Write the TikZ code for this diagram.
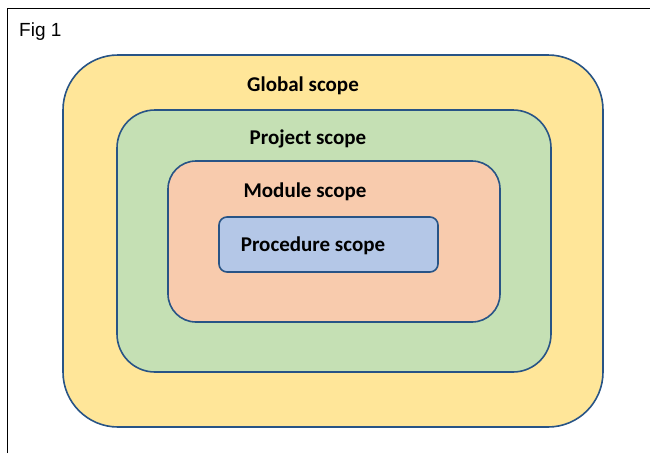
\documentclass[tikz,border=0pt]{standalone}
\usepackage{fontspec}
\setmainfont{Carlito}
\newfontfamily\arialfont{Liberation Sans}
\definecolor{scopeborder}{RGB}{40,84,134}
\definecolor{globalfill}{RGB}{255,230,153}
\definecolor{projectfill}{RGB}{197,224,180}
\definecolor{modulefill}{RGB}{248,203,173}
\definecolor{procfill}{RGB}{180,199,231}
\begin{document}
\begin{tikzpicture}[x=1pt,y=-1pt,
  scopebox/.style={draw=scopeborder, line width=1.6pt, inner sep=0pt},
  scopelabel/.style={font=\bfseries\fontsize{21}{24}\selectfont, inner sep=0pt, anchor=base}]
\useasboundingbox (0,0) rectangle (650,453);
\draw[line width=1pt] (7,453) -- (7,8) -- (650,8);
\node[anchor=base west, font=\arialfont\fontsize{19}{22}\selectfont, inner sep=0pt] (fig) at (19,36) {Fig 1};
\node[scopebox, fill=globalfill, rounded corners=55pt, minimum width=540pt, minimum height=372pt] (global) at (333,241) {};
\node[scopebox, fill=projectfill, rounded corners=38pt, minimum width=434pt, minimum height=262pt] (project) at (334,241) {};
\node[scopebox, fill=modulefill, rounded corners=28pt, minimum width=332pt, minimum height=161pt] (module) at (334,241.5) {};
\node[scopebox, fill=procfill, rounded corners=8pt, minimum width=219pt, minimum height=55pt] (proc) at (328.5,244.5) {};
\node[scopelabel] (gl) at (303,91) {Global scope};
\node[scopelabel] (pl) at (308,144) {Project scope};
\node[scopelabel] (ml) at (305,197) {Module scope};
\node[scopelabel] (prl) at (313,251) {Procedure scope};
\end{tikzpicture}
\end{document}
